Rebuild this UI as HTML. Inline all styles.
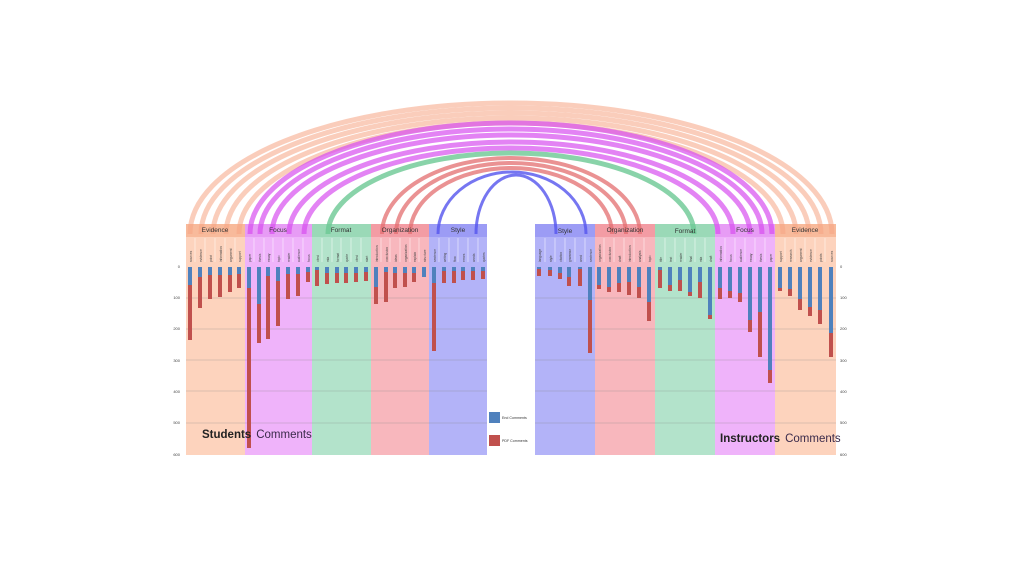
<!DOCTYPE html>
<html><head><meta charset="utf-8"><style>
html,body{margin:0;padding:0;background:#fff;width:1024px;height:576px;overflow:hidden}
svg{display:block;font-family:"Liberation Sans",sans-serif}
</style></head><body>
<svg width="1024" height="576" viewBox="0 0 1024 576">
<g>
<rect x="186" y="224" width="59" height="231" fill="#fdd3bd"/>
<rect x="245" y="224" width="67" height="231" fill="#efb3fa"/>
<rect x="312" y="224" width="59" height="231" fill="#b3e3cb"/>
<rect x="371" y="224" width="58" height="231" fill="#f8b7bd"/>
<rect x="429" y="224" width="58" height="231" fill="#b3b3f8"/>
<rect x="535" y="224" width="60" height="231" fill="#b3b3f8"/>
<rect x="595" y="224" width="60" height="231" fill="#f8b7bd"/>
<rect x="655" y="224" width="60" height="231" fill="#b3e3cb"/>
<rect x="715" y="224" width="60" height="231" fill="#efb3fa"/>
<rect x="775" y="224" width="61" height="231" fill="#fdd3bd"/>
</g>
<g opacity="0.9">
<rect x="186" y="224" width="59" height="13" fill="#f8b898"/>
<rect x="245" y="224" width="67" height="13" fill="#e79af5"/>
<rect x="312" y="224" width="59" height="13" fill="#98d8b5"/>
<rect x="371" y="224" width="58" height="13" fill="#f39aa2"/>
<rect x="429" y="224" width="58" height="13" fill="#9a9af5"/>
<rect x="535" y="224" width="60" height="13" fill="#9a9af5"/>
<rect x="595" y="224" width="60" height="13" fill="#f39aa2"/>
<rect x="655" y="224" width="60" height="13" fill="#98d8b5"/>
<rect x="715" y="224" width="60" height="13" fill="#e79af5"/>
<rect x="775" y="224" width="61" height="13" fill="#f8b898"/>
</g>
<g fill="none" stroke-width="5">
<g stroke="#f7a585" opacity="0.55">
<path d="M190 234 A321 131 0 0 1 832 234"/>
<path d="M201 234 A310 126 0 0 1 821 234"/>
<path d="M213 234 A298 121 0 0 1 809 234"/>
<path d="M226 234 A285 116 0 0 1 796 234"/>
<path d="M239 234 A272 111 0 0 1 783 234"/>
</g>
<g stroke="#d84ff0" opacity="0.7">
<path d="M250 234 A261 111 0 0 1 772 234"/>
<path d="M260 234 A251 105 0 0 1 762 234"/>
<path d="M272 234 A239 99 0 0 1 750 234"/>
<path d="M289 234 A222 92 0 0 1 733 234"/>
<path d="M304 234 A207 86 0 0 1 718 234"/>
</g>
<path stroke="#6cc894" opacity="0.8" d="M328 234 A183 81 0 0 1 694 234"/>
<g stroke="#e46e70" opacity="0.75" stroke-width="4">
<path d="M382 234 A129 76 0 0 1 640 234"/>
<path d="M396 234 A115 71 0 0 1 626 234"/>
<path d="M410 234 A101 66 0 0 1 612 234"/>
</g>
<g stroke="#5555ee" opacity="0.8" stroke-width="3">
<path d="M438 234 A74 62 0 0 1 586 234"/>
<path d="M476 234 A40 59 0 0 1 556 234"/>
</g>
</g>
<g font-size="6.5" fill="#333" text-anchor="middle">
<text x="215" y="232">Evidence</text><text x="278" y="232">Focus</text><text x="341" y="232">Format</text><text x="400" y="232">Organization</text><text x="458" y="232">Style</text>
<text x="565" y="233">Style</text><text x="625" y="232">Organization</text><text x="685" y="233">Format</text><text x="745" y="232">Focus</text><text x="805" y="232">Evidence</text>
</g>
<g stroke="#fff" stroke-width="0.6" opacity="0.8">
<path d="M195 238V262M205 238V262M215 238V262M225 238V262M235 238V262M254 238V262M264 238V262M273 238V262M283 238V262M293 238V262M303 238V262M322 238V262M332 238V262M341 238V262M351 238V262M361 238V262M381 238V262M390 238V262M400 238V262M410 238V262M419 238V262M439 238V262M449 238V262M458 238V262M468 238V262M478 238V262"/>
<path d="M545 238V262M555 238V262M565 238V262M575 238V262M585 238V262M604 238V262M614 238V262M624 238V262M634 238V262M644 238V262M665 238V262M675 238V262M685 238V262M695 238V262M705 238V262M725 238V262M735 238V262M745 238V262M755 238V262M765 238V262M785 238V262M795 238V262M805 238V262M815 238V262M825 238V262"/>
</g>
<g font-size="3.2" fill="#444">
<text transform="translate(192,262) rotate(-90)">sources</text><text transform="translate(202,262) rotate(-90)">evidence</text><text transform="translate(212,262) rotate(-90)">point</text><text transform="translate(222,262) rotate(-90)">information</text><text transform="translate(232,262) rotate(-90)">argument</text><text transform="translate(241,262) rotate(-90)">support</text>
<text transform="translate(251,262) rotate(-90)">paper</text><text transform="translate(261,262) rotate(-90)">thesis</text><text transform="translate(270,262) rotate(-90)">essay</text><text transform="translate(280,262) rotate(-90)">topic</text><text transform="translate(290,262) rotate(-90)">reader</text><text transform="translate(300,262) rotate(-90)">audience</text><text transform="translate(310,262) rotate(-90)">focus</text>
<text transform="translate(319,262) rotate(-90)">cited</text><text transform="translate(329,262) rotate(-90)">mla</text><text transform="translate(339,262) rotate(-90)">format</text><text transform="translate(348,262) rotate(-90)">quote</text><text transform="translate(358,262) rotate(-90)">cited</text><text transform="translate(368,262) rotate(-90)">start</text>
<text transform="translate(378,262) rotate(-90)">introduction</text><text transform="translate(388,262) rotate(-90)">conclusion</text><text transform="translate(397,262) rotate(-90)">ideas</text><text transform="translate(407,262) rotate(-90)">organization</text><text transform="translate(416,262) rotate(-90)">explain</text><text transform="translate(426,262) rotate(-90)">structure</text>
<text transform="translate(436,262) rotate(-90)">sentence</text><text transform="translate(446,262) rotate(-90)">writing</text><text transform="translate(456,262) rotate(-90)">flow</text><text transform="translate(465,262) rotate(-90)">errors</text><text transform="translate(475,262) rotate(-90)">words</text><text transform="translate(485,262) rotate(-90)">quotes</text>
<text transform="translate(541,262) rotate(-90)">language</text><text transform="translate(552,262) rotate(-90)">style</text><text transform="translate(562,262) rotate(-90)">citation</text><text transform="translate(571,262) rotate(-90)">grammar</text><text transform="translate(582,262) rotate(-90)">word</text><text transform="translate(592,262) rotate(-90)">sentence</text>
<text transform="translate(601,262) rotate(-90)">organization</text><text transform="translate(611,262) rotate(-90)">conclusion</text><text transform="translate(621,262) rotate(-90)">draft</text><text transform="translate(631,262) rotate(-90)">introduction</text><text transform="translate(641,262) rotate(-90)">analysis</text><text transform="translate(651,262) rotate(-90)">topic</text>
<text transform="translate(662,262) rotate(-90)">title</text><text transform="translate(672,262) rotate(-90)">text</text><text transform="translate(682,262) rotate(-90)">reader</text><text transform="translate(692,262) rotate(-90)">final</text><text transform="translate(702,262) rotate(-90)">mla</text><text transform="translate(712,262) rotate(-90)">draft</text>
<text transform="translate(722,262) rotate(-90)">information</text><text transform="translate(732,262) rotate(-90)">focus</text><text transform="translate(742,262) rotate(-90)">audience</text><text transform="translate(752,262) rotate(-90)">essay</text><text transform="translate(762,262) rotate(-90)">thesis</text><text transform="translate(772,262) rotate(-90)">paper</text>
<text transform="translate(782,262) rotate(-90)">support</text><text transform="translate(792,262) rotate(-90)">research</text><text transform="translate(802,262) rotate(-90)">argument</text><text transform="translate(812,262) rotate(-90)">evidence</text><text transform="translate(822,262) rotate(-90)">points</text><text transform="translate(833,262) rotate(-90)">sources</text>
</g>
<g stroke="#8a8a8a" stroke-width="0.6" opacity="0.6">
<path d="M186 298H487M186 329H487M186 360H487M186 391H487M186 423H487"/>
<path d="M535 298H836M535 329H836M535 360H836M535 391H836M535 423H836"/>
</g>
<g font-size="4" fill="#444" text-anchor="end">
<text x="180" y="268">0</text><text x="180" y="299">100</text><text x="180" y="330">200</text><text x="180" y="362">300</text><text x="180" y="393">400</text><text x="180" y="424">500</text><text x="180" y="456">600</text>
</g>
<g font-size="4" fill="#444">
<text x="840" y="268">0</text><text x="840" y="299">100</text><text x="840" y="330">200</text><text x="840" y="362">300</text><text x="840" y="393">400</text><text x="840" y="424">500</text><text x="840" y="456">600</text>
</g>
<g fill="#c0504d">
<rect x="188" y="267" width="4" height="73"/><rect x="198" y="267" width="4" height="41"/><rect x="208" y="267" width="4" height="32"/><rect x="218" y="267" width="4" height="30"/><rect x="228" y="267" width="4" height="25"/><rect x="237" y="267" width="4" height="21"/>
<rect x="247" y="267" width="4" height="181"/><rect x="257" y="267" width="4" height="76"/><rect x="266" y="267" width="4" height="72"/><rect x="276" y="267" width="4" height="59"/><rect x="286" y="267" width="4" height="32"/><rect x="296" y="267" width="4" height="29"/><rect x="306" y="267" width="4" height="15"/>
<rect x="315" y="267" width="4" height="19"/><rect x="325" y="267" width="4" height="17"/><rect x="335" y="267" width="4" height="16"/><rect x="344" y="267" width="4" height="16"/><rect x="354" y="267" width="4" height="15"/><rect x="364" y="267" width="4" height="14"/>
<rect x="374" y="267" width="4" height="37"/><rect x="384" y="267" width="4" height="35"/><rect x="393" y="267" width="4" height="21"/><rect x="403" y="267" width="4" height="20"/><rect x="412" y="267" width="4" height="15"/>
<rect x="432" y="267" width="4" height="84"/><rect x="442" y="267" width="4" height="16"/><rect x="452" y="267" width="4" height="16"/><rect x="461" y="267" width="4" height="13"/><rect x="471" y="267" width="4" height="13"/><rect x="481" y="267" width="4" height="12"/>
</g>
<g fill="#4f81bd">
<rect x="188" y="267" width="4" height="18"/><rect x="198" y="267" width="4" height="10"/><rect x="208" y="267" width="4" height="8"/><rect x="218" y="267" width="4" height="8"/><rect x="228" y="267" width="4" height="8"/><rect x="237" y="267" width="4" height="7"/>
<rect x="247" y="267" width="4" height="21"/><rect x="257" y="267" width="4" height="37"/><rect x="266" y="267" width="4" height="9"/><rect x="276" y="267" width="4" height="14"/><rect x="286" y="267" width="4" height="7"/><rect x="296" y="267" width="4" height="7"/><rect x="306" y="267" width="4" height="5"/>
<rect x="315" y="267" width="4" height="3"/><rect x="325" y="267" width="4" height="6"/><rect x="335" y="267" width="4" height="6"/><rect x="344" y="267" width="4" height="6"/><rect x="354" y="267" width="4" height="6"/><rect x="364" y="267" width="4" height="5"/>
<rect x="374" y="267" width="4" height="20"/><rect x="384" y="267" width="4" height="5"/><rect x="393" y="267" width="4" height="6"/><rect x="403" y="267" width="4" height="6"/><rect x="412" y="267" width="4" height="6"/><rect x="422" y="267" width="4" height="10"/>
<rect x="432" y="267" width="4" height="16"/><rect x="442" y="267" width="4" height="4"/><rect x="452" y="267" width="4" height="4"/><rect x="461" y="267" width="4" height="4"/><rect x="471" y="267" width="4" height="4"/><rect x="481" y="267" width="4" height="4"/>
</g>
<g fill="#c0504d">
<rect x="537" y="267" width="4" height="9"/><rect x="548" y="267" width="4" height="9"/><rect x="558" y="267" width="4" height="12"/><rect x="567" y="267" width="4" height="19"/><rect x="578" y="267" width="4" height="19"/><rect x="588" y="267" width="4" height="86"/>
<rect x="597" y="267" width="4" height="22"/><rect x="607" y="267" width="4" height="25"/><rect x="617" y="267" width="4" height="25"/><rect x="627" y="267" width="4" height="28"/><rect x="637" y="267" width="4" height="31"/><rect x="647" y="267" width="4" height="54"/>
<rect x="658" y="267" width="4" height="21"/><rect x="668" y="267" width="4" height="24"/><rect x="678" y="267" width="4" height="24"/><rect x="688" y="267" width="4" height="29"/><rect x="698" y="267" width="4" height="31"/><rect x="708" y="267" width="4" height="52"/>
<rect x="718" y="267" width="4" height="32"/><rect x="728" y="267" width="4" height="31"/><rect x="738" y="267" width="4" height="35"/><rect x="748" y="267" width="4" height="65"/><rect x="758" y="267" width="4" height="90"/><rect x="768" y="267" width="4" height="116"/>
<rect x="778" y="267" width="4" height="24"/><rect x="788" y="267" width="4" height="29"/><rect x="798" y="267" width="4" height="43"/><rect x="808" y="267" width="4" height="49"/><rect x="818" y="267" width="4" height="57"/><rect x="829" y="267" width="4" height="90"/>
</g>
<g fill="#4f81bd">
<rect x="537" y="267" width="4" height="2"/><rect x="548" y="267" width="4" height="3"/><rect x="558" y="267" width="4" height="6"/><rect x="567" y="267" width="4" height="10"/><rect x="578" y="267" width="4" height="2"/><rect x="588" y="267" width="4" height="33"/>
<rect x="597" y="267" width="4" height="18"/><rect x="607" y="267" width="4" height="20"/><rect x="617" y="267" width="4" height="16"/><rect x="627" y="267" width="4" height="15"/><rect x="637" y="267" width="4" height="20"/><rect x="647" y="267" width="4" height="35"/>
<rect x="658" y="267" width="4" height="3"/><rect x="668" y="267" width="4" height="18"/><rect x="678" y="267" width="4" height="13"/><rect x="688" y="267" width="4" height="25"/><rect x="698" y="267" width="4" height="15"/><rect x="708" y="267" width="4" height="48"/>
<rect x="718" y="267" width="4" height="21"/><rect x="728" y="267" width="4" height="24"/><rect x="738" y="267" width="4" height="26"/><rect x="748" y="267" width="4" height="53"/><rect x="758" y="267" width="4" height="45"/><rect x="768" y="267" width="4" height="103"/>
<rect x="778" y="267" width="4" height="21"/><rect x="788" y="267" width="4" height="22"/><rect x="798" y="267" width="4" height="32"/><rect x="808" y="267" width="4" height="40"/><rect x="818" y="267" width="4" height="43"/><rect x="829" y="267" width="4" height="66"/>
</g>
<rect x="489" y="412" width="11" height="11" fill="#4f81bd"/>
<text x="502" y="419" font-size="3.6" fill="#333">End Comments</text>
<rect x="489" y="435" width="11" height="11" fill="#c0504d"/>
<text x="502" y="442" font-size="3.6" fill="#333">PDF Comments</text>
<text x="202" y="438" font-size="11.5" fill="#222"><tspan font-weight="bold">Students</tspan><tspan dx="5" fill="#3a2a4a">Comments</tspan></text>
<text x="720" y="442" font-size="11.5" fill="#222"><tspan font-weight="bold">Instructors</tspan><tspan dx="5" fill="#3a2a4a">Comments</tspan></text>
</svg>
</body></html>
